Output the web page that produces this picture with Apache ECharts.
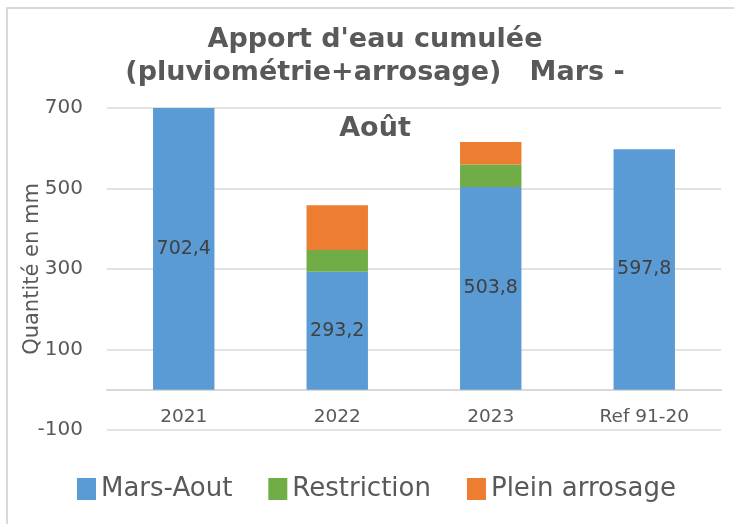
<!DOCTYPE html>
<html lang="fr">
<head>
  <meta charset="UTF-8">
  <title>Apport d'eau cumulée</title>
  <style>
    * { margin: 0; padding: 0; box-sizing: border-box; }
    body { background: #fff; }
    #chart { width: 734px; height: 524px; }
  </style>
</head>
<body>
  <div id="chart"></div>
  <script src="https://cdn.jsdelivr.net/npm/echarts@6/dist/echarts.min.js"></script>
  <script>
    const categories = ['2021', '2022', '2023', 'Ref 91-20']
    const marsAout = [702.4, 293.2, 503.8, 597.8]
    const restriction = [null, 54, 56, null]
    const pleinArrosage = [null, 111, 56, null]
    const titleLines = ["Apport d'eau cumulée", '(pluviométrie+arrosage)   Mars -', 'Août']

    const font = '"DejaVu Sans", sans-serif'
    const grey = '#595959'
    const chart = echarts.init(document.getElementById('chart'))

    // centre vertical de chaque ligne du titre
    const titleY = [40, 73, 129]
    const options = {
      textStyle: { fontFamily: font },
      animation: false,
      graphic: [
        {
          type: 'polyline',
          shape: { points: [[7, 524], [7, 8], [734, 8]] },
          style: { fill: 'none', stroke: '#d9d9d9', lineWidth: 2 },
          silent: true
        }
      ].concat(titleLines.map((t, i) => ({
        type: 'text',
        x: 375,
        y: titleY[i],
        style: {
          text: t,
          fontFamily: font,
          fontWeight: 'bold',
          fontSize: 27,
          fill: grey,
          textAlign: 'center',
          textVerticalAlign: 'middle'
        },
        z: 10
      }))),
      grid: { left: 107, right: 13, top: 108, bottom: 94 },
      legend: {
        left: 72,
        top: 471,
        itemWidth: 19,
        itemHeight: 22,
        itemGap: 36,
        icon: 'rect',
        textStyle: { fontSize: 26, color: grey, fontFamily: font },
        data: ['Mars-Aout', 'Restriction', 'Plein arrosage']
      },
      xAxis: {
        type: 'category',
        data: categories,
        axisLine: { onZero: true, lineStyle: { color: '#d9d9d9', width: 2 } },
        axisTick: { show: false },
        axisLabel: { color: grey, fontSize: 18.5, margin: -22 }
      },
      yAxis: {
        type: 'value',
        min: -100,
        max: 700,
        interval: 200,
        name: 'Quantité en mm',
        nameLocation: 'middle',
        nameRotate: 90,
        nameGap: 64,
        nameMoveOverlap: false,
        nameTextStyle: { fontSize: 21, color: grey },
        axisLine: { show: false },
        axisTick: { show: false },
        axisLabel: { color: grey, fontSize: 20, margin: 24 },
        splitLine: { lineStyle: { color: '#d9d9d9', width: 1.5 } }
      },
      series: [
        {
          name: 'Mars-Aout',
          type: 'bar',
          stack: 'total',
          barWidth: '40%',
          data: marsAout,
          itemStyle: { color: '#5b9bd5' },
          label: {
            show: true,
            position: 'inside',
            color: '#404040',
            fontSize: 19,
            formatter: p => p.value.toFixed(1).replace('.', ',')
          }
        },
        {
          name: 'Restriction',
          type: 'bar',
          stack: 'total',
          data: restriction,
          itemStyle: { color: '#70ad47' }
        },
        {
          name: 'Plein arrosage',
          type: 'bar',
          stack: 'total',
          data: pleinArrosage,
          itemStyle: { color: '#ed7d31' }
        }
      ]
    }

    chart.setOption(options)
  </script>
</body>
</html>
